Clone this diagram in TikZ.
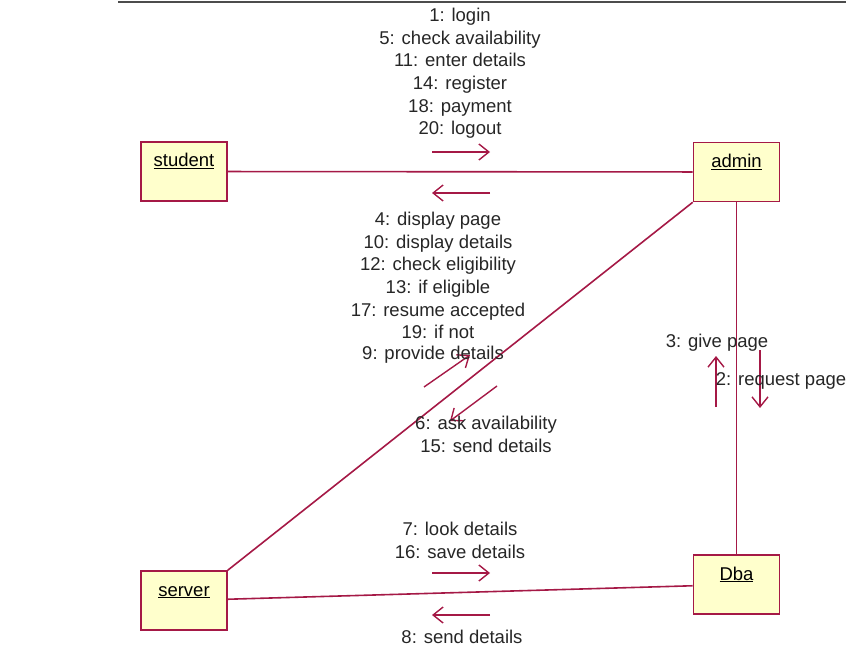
\documentclass[tikz,border=0pt]{standalone}
\usepackage{fontspec}
\setmainfont{Liberation Sans}
\usetikzlibrary{arrows.meta}
\usetikzlibrary{positioning}

\definecolor{roseline}{RGB}{165,25,70}
\definecolor{rosefill}{RGB}{255,255,204}

\begin{document}
\begin{tikzpicture}
	[x=1pt,y=-1pt,
	obj/.style={rectangle,draw=roseline,fill=rosefill,line width=1.6pt,minimum width=86pt,
		text height=14pt,text depth=23pt,inner ysep=11pt,font=\fontsize{18.5}{22.6}\selectfont},
	link/.style={draw=roseline,line width=1.6pt},
	msg/.style={draw=roseline,line width=1.4pt,-{Straight Barb[length=10pt,width=16pt]}},
	lbl/.style={align=center,text=black!85,inner sep=0pt,font=\fontsize{18.5}{22.6}\selectfont}]
	\useasboundingbox (0,0) rectangle (846,647);
	\draw[black!70,line width=2.4pt] (118,1.8) -- (846,1.8);

	\node[obj] (student) at (184,171.5) {\underline{student}};
	\node[obj] (admin) at (736.5,172) {\underline{admin}};
	\node[obj] (server) at (184,600.5) {\underline{server}};
	\node[obj] (Dba) at (736.5,584.5) {\underline{Dba}};

	\foreach \from/\to in
	{student/admin, admin.south west/server.north east, admin/Dba, server/Dba}
	\draw[link] (\from) -- (\to);

	% message arrows
	\coordinate (sa1) at (432,152); \coordinate (sa2) at (490,152);
	\coordinate (as1) at (490,193); \coordinate (as2) at (432,193);
	\coordinate (sv1) at (424,387); \coordinate (sv2) at (470,355);
	\coordinate (vs1) at (497,386); \coordinate (vs2) at (450,421);
	\coordinate (ad1) at (760,350); \coordinate (ad2) at (760,408);
	\coordinate (da1) at (716,407); \coordinate (da2) at (716,356);
	\coordinate (sd1) at (432,573); \coordinate (sd2) at (490,573);
	\coordinate (ds1) at (490,615); \coordinate (ds2) at (432,615);
	\foreach \from/\to in
	{sa1/sa2, as1/as2, sv1/sv2, vs1/vs2, ad1/ad2, da1/da2, sd1/sd2, ds1/ds2}
	\draw[msg] (\from) -- (\to);

	\node[lbl] (lsa) at (460,73.5) {1: login\\5: check availability\\11: enter details\\14: register\\18: payment\\20: logout};
	\node[lbl] (las) at (438,275.5) {4: display page\\10: display details\\12: check eligibility\\13: if eligible\\17: resume accepted\\19: if not};
	\node[lbl] (lsv) at (433,355) {9: provide details};
	\node[lbl] (lvs) at (486,434.5) {6: ask availability\\15: send details};
	\node[lbl] (lda) at (717,343) {3: give page};
	\node[lbl] (lad) at (781,381) {2: request page};
	\node[lbl] (lsd) at (460,540.5) {7: look details\\16: save details};
	\node[lbl] (lds) at (462,636.5) {8: send details};
\end{tikzpicture}
\end{document}
